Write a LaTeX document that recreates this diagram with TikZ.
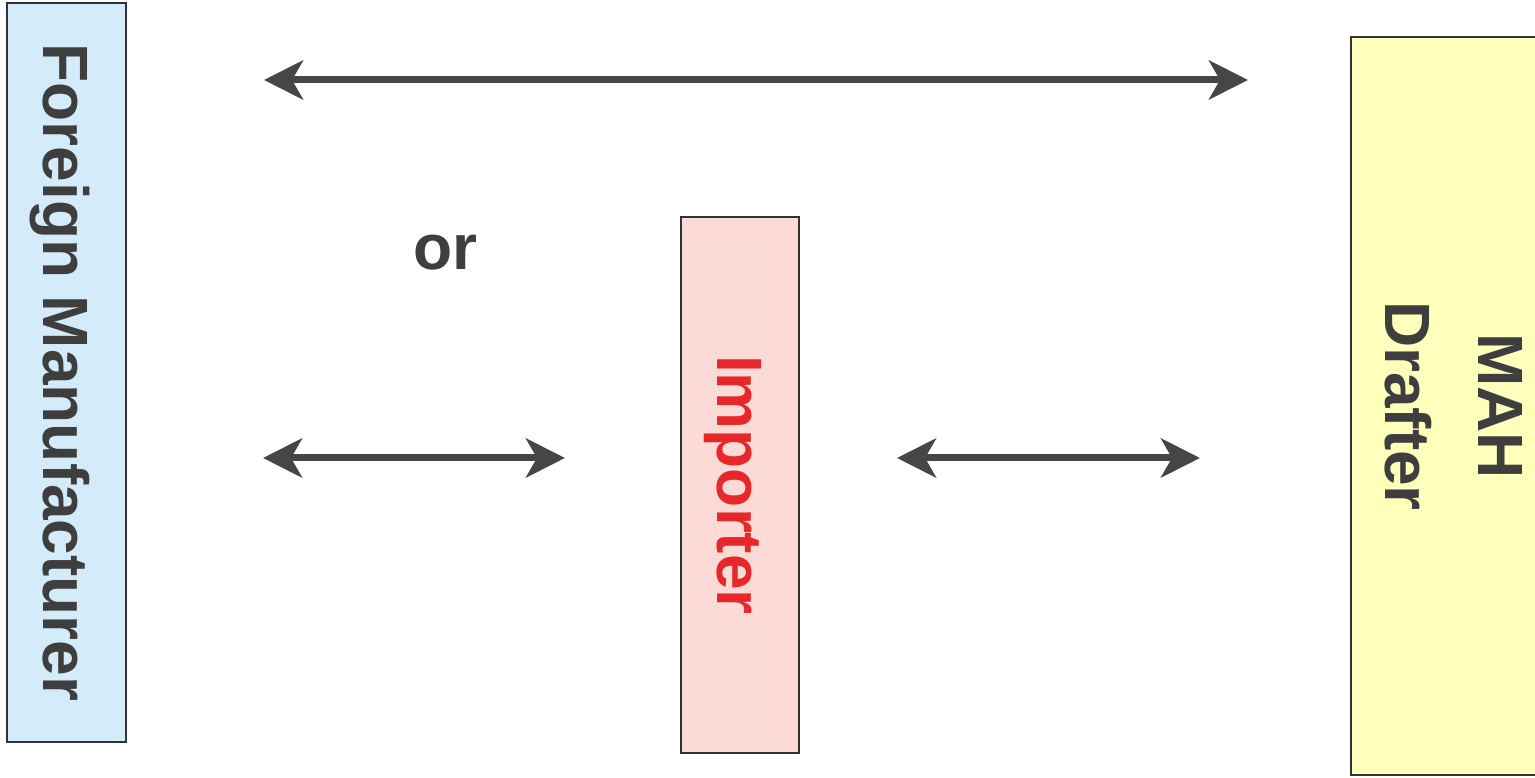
\documentclass[tikz,border=0pt]{standalone}
\usepackage{fontspec}
\setmainfont{Liberation Sans}
\usetikzlibrary{arrows.meta}
\definecolor{fmblue}{RGB}{212,236,250}
\definecolor{imppink}{RGB}{252,218,214}
\definecolor{mahyellow}{RGB}{255,255,188}
\definecolor{txtgray}{RGB}{62,62,62}
\definecolor{impred}{RGB}{230,40,42}
\definecolor{arrgray}{RGB}{70,70,70}
\begin{document}
\begin{tikzpicture}[x=1pt,y=1pt,
  bigfont/.style={font=\fontsize{64}{93}\selectfont\bfseries},
  box/.style={draw=black!80, line width=2pt, inner sep=0pt, rotate=-90, bigfont, text=txtgray, align=center},
  link/.style={draw=arrgray, line width=7pt,
    {Stealth[length=39pt,width=39pt,inset=11pt]}-{Stealth[length=39pt,width=39pt,inset=11pt]}}]
\useasboundingbox (0,0) rectangle (1535,778);
\fill[white] (0,0) rectangle (1535,778);
\node[box, fill=fmblue, minimum width=739pt, minimum height=119pt,
      text height=46pt, text depth=0pt] (fm) at (66.5,405.5) {Foreign Manufacturer};
\node[box, fill=imppink, text=impred, minimum width=536pt, minimum height=118pt,
      text height=46pt, text depth=0pt] (imp) at (740,293) {Importer};
\node[box, fill=mahyellow, minimum width=738pt, minimum height=206pt] (mah) at (1454,372) {MAH\\Drafter};
\node[bigfont, text=txtgray, anchor=base, inner sep=0pt] (ortext) at (445,508) {or};
\coordinate (toprow) at (0,698);
\coordinate (midrow) at (0,320);
\draw[link, shorten <=137pt, shorten >=102pt] (fm.north |- toprow) -- (mah.south |- toprow);
\draw[link, shorten <=136pt, shorten >=115pt] (fm.north |- midrow) -- (imp.south |- midrow);
\draw[link, shorten <=97pt, shorten >=150pt] (imp.north |- midrow) -- (mah.south |- midrow);
\end{tikzpicture}
\end{document}
